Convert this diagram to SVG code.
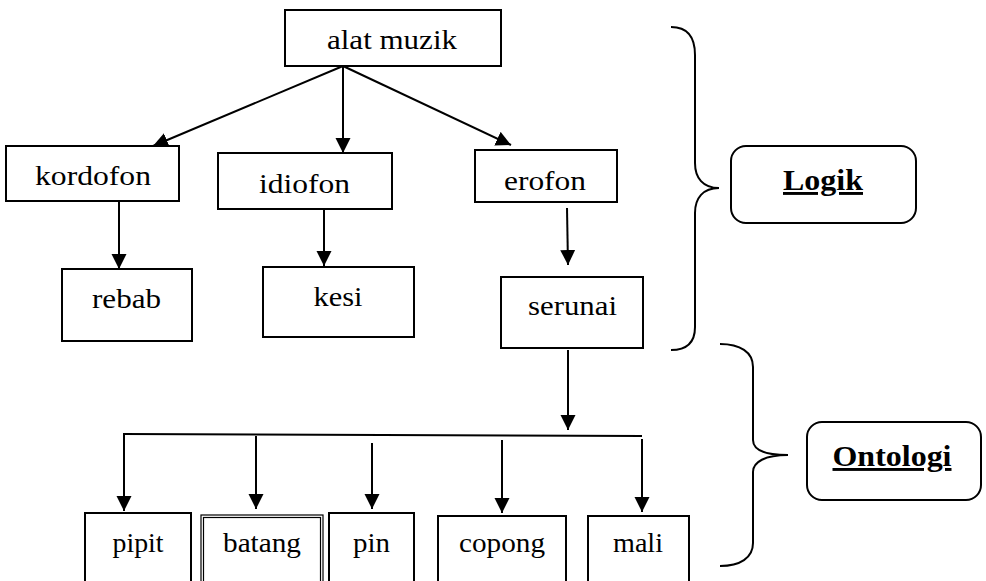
<svg xmlns="http://www.w3.org/2000/svg" width="986" height="581" viewBox="0 0 986 581">
<style>
.box{fill:#fff;stroke:#000;stroke-width:2}
.dbl{fill:none;stroke:#000;stroke-width:1.2}
text{font-family:'Liberation Serif','Times New Roman',Tinos,Times,serif;fill:#000;text-anchor:middle}
.t{font-size:28px}
.s{font-size:27px}
.b{font-size:29px;font-weight:bold;text-decoration:underline}
.e{fill:none;stroke:#000;stroke-width:2}
.br{fill:none;stroke:#000;stroke-width:2}
</style>
<defs>
<marker id="ah" markerUnits="userSpaceOnUse" markerWidth="16" markerHeight="16" refX="15" refY="7.5" orient="auto">
<path d="M0,0 L15,7.5 L0,15 z" fill="#000"/>
</marker>
</defs>
<g id="connectors">
<line class="e" x1="343" y1="66" x2="153" y2="146" marker-end="url(#ah)"/>
<line class="e" x1="343" y1="66" x2="343" y2="153" marker-end="url(#ah)"/>
<line class="e" x1="343" y1="66" x2="511" y2="145" marker-end="url(#ah)"/>
<line class="e" x1="119" y1="201" x2="119" y2="269" marker-end="url(#ah)"/>
<line class="e" x1="324" y1="209" x2="324" y2="266" marker-end="url(#ah)"/>
<line class="e" x1="567" y1="208" x2="568" y2="265" marker-end="url(#ah)"/>
<line class="e" x1="568" y1="350" x2="568" y2="430" marker-end="url(#ah)"/>
<line class="e" x1="123" y1="434" x2="642" y2="436"/>
<line class="e" x1="124" y1="435" x2="124" y2="511" marker-end="url(#ah)"/>
<line class="e" x1="256" y1="436" x2="256" y2="509" marker-end="url(#ah)"/>
<line class="e" x1="372" y1="443" x2="372" y2="509" marker-end="url(#ah)"/>
<line class="e" x1="502" y1="440" x2="502" y2="513" marker-end="url(#ah)"/>
<line class="e" x1="642" y1="439" x2="642" y2="512" marker-end="url(#ah)"/>
</g>
<g id="braces">
<path class="br" d="M671,27 C688,27 695,38 695,55 L695,163 C695,178 703,188 719,188 C703,188 695,198 695,213 L695,327 C695,342 688,350 671,350"/>
<path class="br" d="M720,344 C740,344 753,352 753,367 L753,440 C753,450 765,455 788,455 C765,455 753,462 753,472 L753,543 C753,558 740,566 720,566"/>
</g>
<g id="alat-muzik"><rect class="box" x="285" y="10" width="216" height="56"/><text class="t" x="392" y="49" textLength="130" lengthAdjust="spacingAndGlyphs">alat muzik</text></g>
<g id="kordofon"><rect class="box" x="6" y="146" width="173" height="55"/><text class="t" x="93" y="185" textLength="116" lengthAdjust="spacingAndGlyphs">kordofon</text></g>
<g id="idiofon"><rect class="box" x="218" y="153" width="174" height="56"/><text class="t" x="304.5" y="193" textLength="91" lengthAdjust="spacingAndGlyphs">idiofon</text></g>
<g id="erofon"><rect class="box" x="475" y="150" width="142" height="52"/><text class="t" x="545" y="190" textLength="82" lengthAdjust="spacingAndGlyphs">erofon</text></g>
<g id="rebab"><rect class="box" x="62" y="269" width="130" height="72"/><text class="t" x="126.5" y="308" textLength="69" lengthAdjust="spacingAndGlyphs">rebab</text></g>
<g id="kesi"><rect class="box" x="263" y="267" width="151" height="70"/><text class="t" x="338" y="306" textLength="49" lengthAdjust="spacingAndGlyphs">kesi</text></g>
<g id="serunai"><rect class="box" x="501" y="277" width="142" height="71"/><text class="t" x="572.5" y="315" textLength="89" lengthAdjust="spacingAndGlyphs">serunai</text></g>
<g id="logik"><rect class="box" x="731" y="146" width="185" height="77" rx="15"/><text class="b" x="823" y="190" textLength="80" lengthAdjust="spacingAndGlyphs">Logik</text></g>
<g id="ontologi"><rect class="box" x="807" y="422" width="174" height="78" rx="15"/><text class="b" x="892" y="466" textLength="119" lengthAdjust="spacingAndGlyphs">Ontologi</text></g>
<g id="pipit"><rect class="box" x="85" y="513" width="106" height="80"/><text class="s" x="138" y="552" textLength="51" lengthAdjust="spacingAndGlyphs">pipit</text></g>
<g id="batang"><rect class="dbl" x="201" y="515" width="122" height="80"/><rect class="dbl" x="203.5" y="517.5" width="117" height="80"/><text class="s" x="262" y="552" textLength="78" lengthAdjust="spacingAndGlyphs">batang</text></g>
<g id="pin"><rect class="box" x="329" y="513" width="85" height="80"/><text class="s" x="371.5" y="552" textLength="37" lengthAdjust="spacingAndGlyphs">pin</text></g>
<g id="copong"><rect class="box" x="438" y="516" width="128" height="80"/><text class="s" x="502" y="552" textLength="86" lengthAdjust="spacingAndGlyphs">copong</text></g>
<g id="mali"><rect class="box" x="588" y="516" width="101" height="80"/><text class="s" x="638" y="552" textLength="50" lengthAdjust="spacingAndGlyphs">mali</text></g>
</svg>
